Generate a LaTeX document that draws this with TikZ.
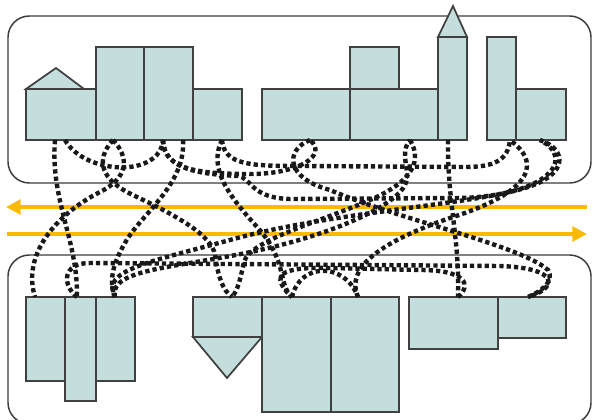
\documentclass[tikz,border=0pt]{standalone}
\usetikzlibrary{arrows.meta}
\definecolor{framec}{RGB}{60,60,60}
\definecolor{edgec}{RGB}{64,64,64}
\definecolor{fillc}{RGB}{195,222,220}
\definecolor{flowc}{RGB}{250,186,0}
\definecolor{linkc}{RGB}{25,25,25}
\begin{document}
\begin{tikzpicture}[x=0.75pt,y=-0.75pt,
  frame/.style={draw=framec,line width=1.1pt,rounded corners=16pt},
  part/.style={draw=edgec,fill=fillc,line width=1.3pt,line join=miter},
  flow/.style={draw=flowc,line width=3.6pt},
  link/.style={draw=linkc,line width=3.3pt,dash pattern=on 3.2pt off 2.3pt}]
\useasboundingbox (0,0) rectangle (593,420);
% frames
\draw[frame] (8,16) rectangle (591,183);
\draw[frame] (8,255) rectangle (591,424);
% top shapes
\draw[part] (26,89) -- (56,68) -- (84,89) -- cycle;
\draw[part] (26,89) rectangle (96,140);
\draw[part] (96,47) rectangle (144,140);
\draw[part] (144,47) rectangle (193,140);
\draw[part] (193,89) rectangle (242,140);
\draw[part] (262,89) rectangle (350,140);
\draw[part] (350,47) rectangle (399,89);
\draw[part] (350,89) rectangle (438,140);
\draw[part] (438,37) -- (453,6) -- (467,37) -- cycle;
\draw[part] (438,37) rectangle (467,140);
\draw[part] (487,37) rectangle (516,140);
\draw[part] (516,89) rectangle (566,140);
% bottom shapes
\draw[part] (26,297) rectangle (65,381);
\draw[part] (96,297) rectangle (135,381);
\draw[part] (65,297) rectangle (96,401);
\draw[part] (193,297) rectangle (262,337);
\draw[part] (193,337) -- (262,337) -- (227,378) -- cycle;
\draw[part] (262,297) rectangle (331,412);
\draw[part] (331,297) rectangle (399,412);
\draw[part] (409,297) rectangle (498,349);
\draw[part] (498,297) rectangle (566,338);
% flow arrows
\coordinate (uS) at (587,207); \coordinate (uE) at (6,207);
\coordinate (lS) at (7,234);   \coordinate (lE) at (587,234);
\draw[flow,-{Triangle[length=11pt,width=11pt]}] (uS) -- (uE);
\draw[flow,-{Triangle[length=11pt,width=11pt]}] (lS) -- (lE);
% end points
\coordinate (t55) at (55,140);  \coordinate (t65) at (65,140);
\coordinate (t113) at (113,140); \coordinate (t163) at (163,140);
\coordinate (t183) at (183,140); \coordinate (t222) at (222,140);
\coordinate (t310) at (310,140); \coordinate (t410) at (410,140);
\coordinate (t448) at (448,140); \coordinate (t510) at (510,140);
\coordinate (t540) at (540,140);
\coordinate (b35) at (35,297);  \coordinate (b77) at (77,297);
\coordinate (b115) at (115,297); \coordinate (b232) at (232,297);
\coordinate (b292) at (292,297); \coordinate (b358) at (358,297);
\coordinate (b458) at (458,297); \coordinate (b528) at (528,297);
% dotted links
\draw[link] (t55) .. controls (50,200) and (78,240) .. (b77);
\draw[link] (t65) .. controls (85,175) and (160,178) .. (t163);
\draw[link] (t113) .. controls (95,160) and (100,180) .. (135,196) .. controls (175,215) and (212,235) .. (215,255) .. controls (218,275) and (222,290) .. (b232);
\draw[link] (t113) .. controls (130,158) and (128,178) .. (100,192) .. controls (55,215) and (22,255) .. (b35);
\draw[link] (t183) .. controls (186,185) and (140,215) .. (125,243) .. controls (110,268) and (110,285) .. (b115);
\draw[link] (t222) .. controls (208,168) and (228,195) .. (258,228) .. controls (288,262) and (278,285) .. (b292);
\draw[link] (t222) .. controls (224,165) and (250,166) .. (300,166) -- (465,167) .. controls (495,167) and (508,160) .. (t510);
\draw[link] (t163) .. controls (163,170) and (200,174) .. (250,174) .. controls (300,174) and (328,155) .. (t310);
\draw[link] (t163) .. controls (164,170) and (200,174) .. (238,176) .. controls (252,178) and (250,198) .. (290,199) -- (460,198) .. controls (545,196) and (578,160) .. (t540);
\draw[link] (t310) .. controls (285,150) and (285,178) .. (330,190) .. controls (400,220) and (520,245) .. (548,270) .. controls (555,282) and (540,292) .. (b528);
\draw[link] (t410) .. controls (425,165) and (405,185) .. (370,200) .. controls (320,222) and (250,240) .. (244,262) .. controls (240,280) and (238,290) .. (b232);
\draw[link] (b77) .. controls (62,285) and (62,263) .. (90,263) -- (500,266) .. controls (560,268) and (558,288) .. (b528);
\draw[link] (t448) .. controls (447,200) and (460,240) .. (b458);
\draw[link] (b292) .. controls (300,262) and (345,262) .. (b358);
\draw[link] (b115) .. controls (100,270) and (150,262) .. (230,240) .. controls (330,212) and (470,205) .. (525,188) .. controls (568,175) and (568,150) .. (t540);
\draw[link] (b115) .. controls (108,268) and (180,268) .. (260,250) .. controls (340,232) and (395,205) .. (405,185) .. controls (412,170) and (398,155) .. (t410);
\draw[link] (b358) .. controls (345,268) and (380,242) .. (450,218) .. controls (520,196) and (548,168) .. (t510);
\draw[link] (b458) .. controls (472,285) and (466,270) .. (420,270) -- (330,268) .. controls (290,267) and (275,272) .. (282,285) .. controls (285,290) and (288,294) .. (b292);
\end{tikzpicture}
\end{document}
